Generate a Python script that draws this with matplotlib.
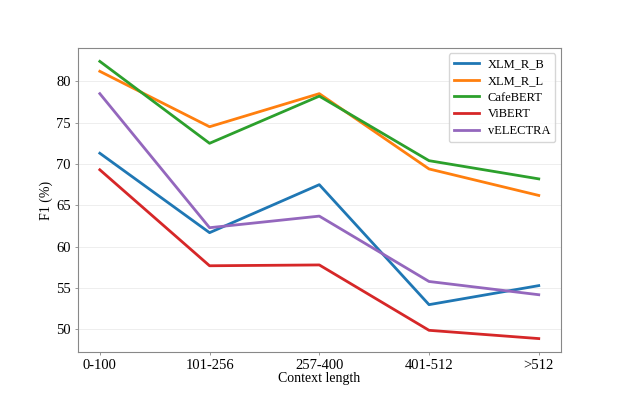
import matplotlib
matplotlib.use("Agg")
import matplotlib.pyplot as plt

plt.rcParams["font.family"] = ["Liberation Serif", "DejaVu Serif"]

contexts = ["0-100", "101-256", "257-400", "401-512", ">512"]
xlm_r_b = [71.3, 61.7, 67.5, 53.0, 55.3]
xlm_r_l = [81.2, 74.5, 78.5, 69.4, 66.2]
cafebert = [82.4, 72.5, 78.2, 70.4, 68.2]
vibert = [69.3, 57.7, 57.8, 49.9, 48.9]
velectra = [78.5, 62.3, 63.7, 55.8, 54.2]

series = [
    ("XLM_R_B", xlm_r_b, "#1f77b4"),
    ("XLM_R_L", xlm_r_l, "#ff7f0e"),
    ("CafeBERT", cafebert, "#2ca02c"),
    ("ViBERT", vibert, "#d62728"),
    ("vELECTRA", velectra, "#9467bd"),
]

fig, ax = plt.subplots(figsize=(6.23, 3.96), dpi=100)
for name, vals, col in series:
    ax.plot(contexts, vals, color=col, linewidth=2.0, label=name)

ax.grid(axis="y", color="#eeeeee", linewidth=0.7)
ax.set_axisbelow(True)
ax.tick_params(length=2, width=0.6, color="#888888", labelsize=10.5, pad=3)
for s in ax.spines.values():
    s.set_color("#888888")
ax.set_xlabel("Context length", fontsize=10, labelpad=0)
ax.set_ylabel("F1 (%)", fontsize=10, labelpad=2)
ax.legend(loc="upper right", fontsize=9, handlelength=2.0, handletextpad=0.7,
          labelspacing=0.38, borderaxespad=0.45)

fig.savefig("out.png", dpi=100)
